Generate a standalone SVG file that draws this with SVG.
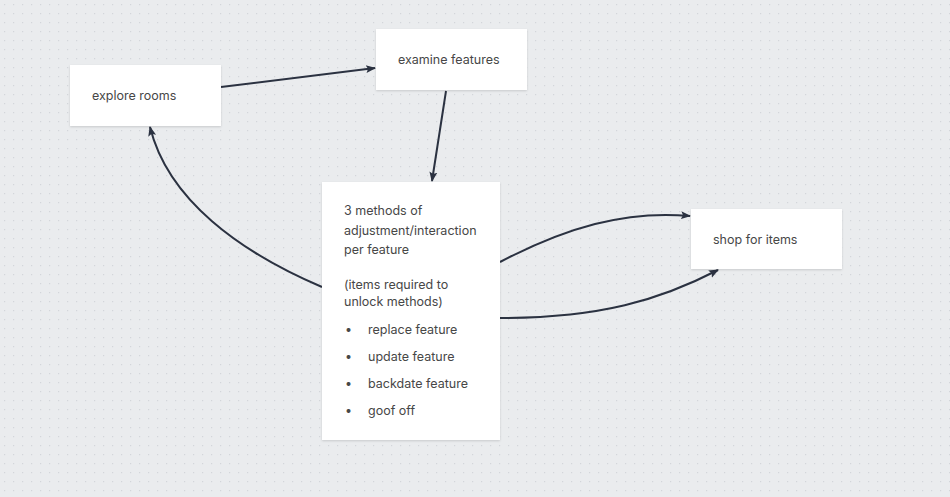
<svg xmlns="http://www.w3.org/2000/svg" width="950" height="497" viewBox="0 0 950 497">
<defs>
<pattern id="dots" width="9" height="9" patternUnits="userSpaceOnUse">
<rect width="9" height="9" fill="#eaecee"/>
<rect x="4" y="4" width="1.2" height="1.2" fill="#d3d6da"/>
</pattern>
<filter id="sh" x="-10%" y="-10%" width="120%" height="130%">
<feDropShadow dx="0" dy="1" stdDeviation="1" flood-color="#000" flood-opacity="0.15"/>
</filter>
<marker id="ah" viewBox="0 0 10 10" refX="9" refY="5" markerWidth="10" markerHeight="10" markerUnits="userSpaceOnUse" orient="auto">
<path d="M0,1 L10,5 L0,9 L2,5 Z" fill="#2b3241"/>
</marker>
</defs>
<style>
.box{fill:#ffffff;filter:url(#sh)}
.t{font-family:Inter,"Noto Sans","Liberation Sans",sans-serif;font-size:12.5px;fill:#474747}
.c{fill:none;stroke:#2b3241;stroke-width:2;marker-end:url(#ah)}
</style>
<rect width="950" height="497" fill="url(#dots)"/>
<g id="connectors">
<path class="c" d="M221,87 L375,68"/>
<path class="c" d="M446,91 L432,181"/>
<path class="c" d="M322,287 C240,252 168,200 150,127"/>
<path class="c" d="M500,262 C565,228 625,210 690,216"/>
<path class="c" d="M500,318 C600,318 660,300 718,270"/>
</g>
<g id="explore">
<rect class="box" x="70" y="65" width="151" height="61"/>
<text class="t" x="92" y="100">explore rooms</text>
</g>
<g id="examine">
<rect class="box" x="376" y="29" width="151" height="61"/>
<text class="t" x="398" y="64">examine features</text>
</g>
<g id="methods">
<rect class="box" x="322" y="182" width="178" height="258"/>
<text class="t" x="344" y="215">3 methods of</text>
<text class="t" x="344" y="235">adjustment/interaction</text>
<text class="t" x="344" y="254">per feature</text>
<text class="t" x="344" y="289">(items required to</text>
<text class="t" x="344" y="306">unlock methods)</text>
<text class="t" x="345" y="334">•</text>
<text class="t" x="368" y="334">replace feature</text>
<text class="t" x="345" y="361">•</text>
<text class="t" x="368" y="361">update feature</text>
<text class="t" x="345" y="388">•</text>
<text class="t" x="368" y="388">backdate feature</text>
<text class="t" x="345" y="415">•</text>
<text class="t" x="368" y="415">goof off</text>
</g>
<g id="shop">
<rect class="box" x="691" y="209" width="151" height="60"/>
<text class="t" x="713" y="244">shop for items</text>
</g>
</svg>
